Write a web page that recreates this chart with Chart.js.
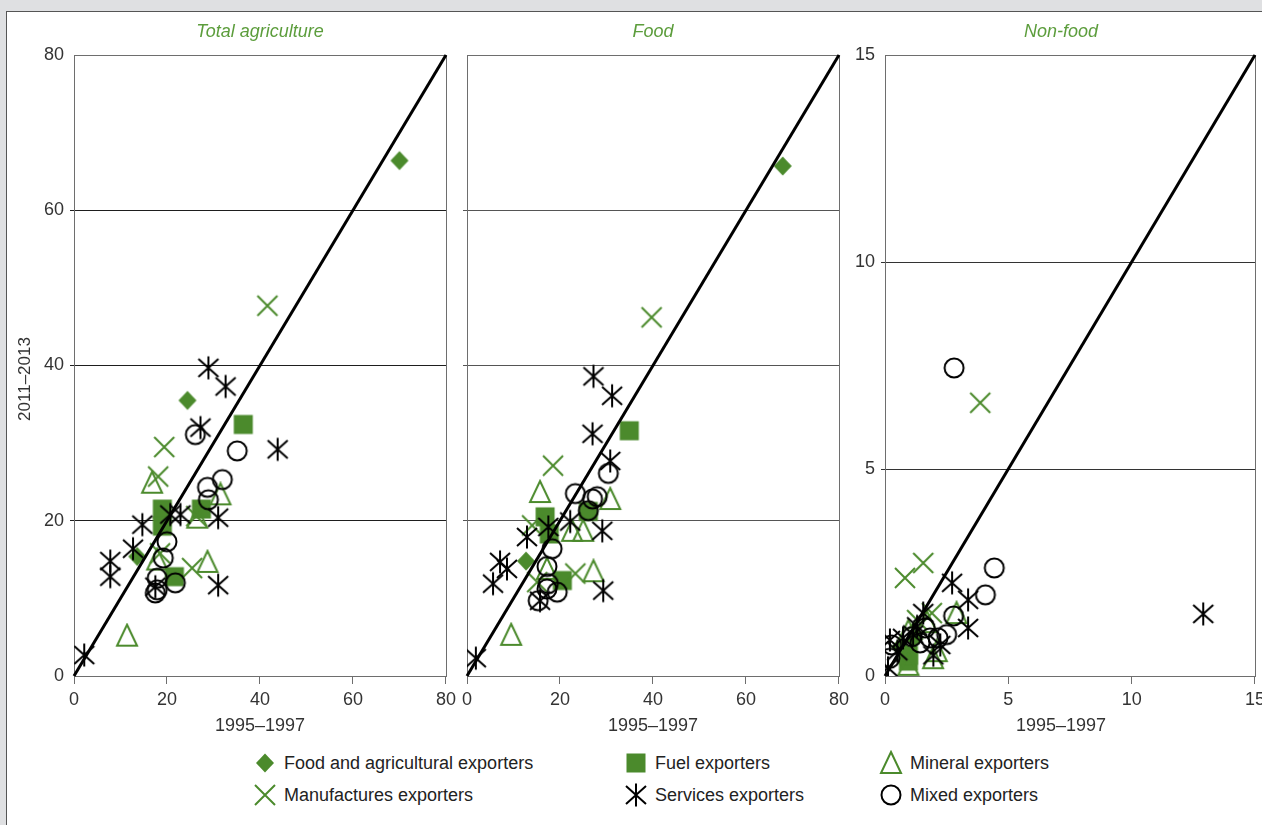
<!DOCTYPE html>
<html>
<head>
<meta charset="utf-8">
<script src="https://cdn.jsdelivr.net/npm/chart.js@4.4.1/dist/chart.umd.min.js"></script>
<style>
  html, body { margin: 0; padding: 0; width: 1262px; height: 825px; overflow: hidden; background: #dfe0e2; font-family: "Liberation Sans", Arial, sans-serif; }
  #sheet { position: absolute; left: 6px; top: 11px; width: 1300px; height: 860px; background: #fff; border-left: 1px solid #555; border-top: 1px solid #555; }
  canvas.panel { position: absolute; top: 0; }
  .key { position: absolute; height: 26px; display: flex; align-items: center; font-size: 18px; color: #222; white-space: nowrap; }
  .key canvas { margin-right: 6px; }
</style>
</head>
<body>
<div id="sheet"></div>
<canvas id="pTotal" class="panel" style="left:0px" width="461" height="740"></canvas>
<canvas id="pFood" class="panel" style="left:455px" width="399" height="740"></canvas>
<canvas id="pNonFood" class="panel" style="left:830px" width="440" height="740"></canvas>
<div id="legend"></div>
<script>
// ---- labels ----
const SERIES_NAMES = ['Food and agricultural exporters', 'Fuel exporters', 'Mineral exporters',
                      'Manufactures exporters', 'Services exporters', 'Mixed exporters'];
const PANEL_TITLES = ['Total agriculture', 'Food', 'Non-food'];
const X_TITLE = '1995–1997';
const Y_TITLE = '2011–2013';
const AXIS_MAX = [80, 80, 15];
const AXIS_STEP = [20, 20, 5];

// ---- Total agriculture: [1995–1997, 2011–2013] ----
const totalFoodAg   = [[70, 66.4], [24.4, 35.5], [13.6, 15.4]];
const totalFuel     = [[36.4, 32.4], [19, 21.5], [19, 19.3], [27.4, 21.5], [21.6, 12.8]];
const totalMineral  = [[11.4, 5.2], [16.8, 24.9], [31.5, 23.4], [26.5, 20.4], [28.7, 14.7], [17.9, 15]];
const totalManuf    = [[41.6, 47.7], [19.4, 29.5], [18.1, 25.7], [25.4, 13.9], [18.5, 15.8], [26.3, 20.6]];
const totalServices = [[2.2, 2.7], [7.8, 14.8], [7.8, 12.8], [12.7, 16.4], [14.7, 19.5], [20.7, 20.8],
                       [22.9, 20.8], [31, 20.4], [31, 11.7], [17.5, 11.5], [27.2, 32], [43.8, 29.2],
                       [28.9, 39.7], [32.6, 37.3]];
const totalMixed    = [[26.1, 31.1], [35.1, 29], [31.9, 25.3], [28.7, 24.3], [28.9, 22.7], [20, 17.3],
                       [19.2, 15.2], [17.9, 12.6], [17.9, 11.1], [21.8, 12], [17.5, 10.7]];

// ---- Food ----
const foodFoodAg   = [[67.9, 65.7], [12.7, 14.8]];
const foodFuel     = [[34.9, 31.6], [16.8, 20.5], [17.7, 18.3], [20.5, 12.3], [26.1, 21.2]];
const foodMineral  = [[9.5, 5.3], [15.7, 23.7], [30.8, 22.8], [22.6, 18.7], [25, 18.7], [27.2, 13.5], [17.2, 13.8]];
const foodManuf    = [[39.7, 46.2], [18.5, 27.1], [23.3, 13.2], [15.1, 12.1], [14, 19.4]];
const foodServices = [[1.9, 2.3], [5.6, 11.9], [7.1, 14.7], [8.6, 13.8], [12.9, 17.9], [17.5, 19.2],
                      [22.2, 19.9], [29.1, 18.7], [29.3, 11], [15.7, 9.7], [30.8, 27.7], [27, 31.2],
                      [27.2, 38.6], [31.2, 36.1]];
const foodMixed    = [[30.4, 26.1], [23.3, 23.5], [28, 23.1], [27, 22.8], [26.1, 21.3], [18.3, 16.4],
                      [17.2, 14.1], [17.5, 11.9], [19.4, 10.8], [15.3, 9.7], [17.2, 11.2]];

// ---- Non-food ----
const nonFoodFoodAg   = [[0.6, 0.7], [1.2, 0.9]];
const nonFoodFuel     = [[0.95, 0.36], [0.95, 0.5]];
const nonFoodMineral  = [[2.9, 1.52], [1.95, 0.43], [0.95, 0.27], [0.95, 1.09], [1.7, 1.3], [2.1, 0.6]];
const nonFoodManuf    = [[3.86, 6.6], [0.81, 2.37], [1.55, 2.73], [1.9, 1.52], [1.3, 1.35]];
const nonFoodServices = [[12.9, 1.5], [2.72, 2.25], [3.37, 1.84], [3.37, 1.16], [1.55, 1.52], [1.96, 0.5],
                         [0.12, 0.2], [0.2, 0.87], [0.73, 0.92], [1.3, 1.2], [2.24, 0.75], [1.14, 1.0], [0.5, 0.6]];
const nonFoodMixed    = [[2.8, 7.44], [4.43, 2.61], [4.07, 1.96], [2.78, 1.45], [2.5, 1.0], [0.2, 0.43],
                         [0.27, 0.75], [1.42, 0.8], [1.83, 0.92], [2.15, 0.92], [1.63, 1.16], [1.1, 0.95]];

// ---- marker glyphs ----
const GREEN = '#4b8a2c';
const TITLE_GREEN = '#5c9d3c';

function glyph(kind) {
  const c = document.createElement('canvas');
  c.width = 26; c.height = 26;
  const g = c.getContext('2d');
  const m = 13;
  g.lineWidth = 2;
  g.lineCap = 'butt';
  g.beginPath();
  if (kind === 'diamond') {
    g.fillStyle = GREEN;
    g.moveTo(m, m - 9.5); g.lineTo(m + 9, m); g.lineTo(m, m + 9.5); g.lineTo(m - 9, m); g.closePath();
    g.fill();
  } else if (kind === 'square') {
    g.fillStyle = GREEN;
    g.fillRect(m - 9.5, m - 9.5, 19, 19);
  } else if (kind === 'triangle') {
    g.strokeStyle = GREEN;
    g.moveTo(m, m - 11); g.lineTo(m + 10, m + 10); g.lineTo(m - 10, m + 10); g.closePath();
    g.stroke();
  } else if (kind === 'cross') {
    g.strokeStyle = GREEN;
    g.moveTo(m - 10, m - 10); g.lineTo(m + 10, m + 10);
    g.moveTo(m + 10, m - 10); g.lineTo(m - 10, m + 10);
    g.stroke();
  } else if (kind === 'asterisk') {
    g.strokeStyle = '#000';
    g.moveTo(m, m - 11.5); g.lineTo(m, m + 11.5);
    g.moveTo(m - 10, m - 9); g.lineTo(m + 10, m + 9);
    g.moveTo(m + 10, m - 9); g.lineTo(m - 10, m + 9);
    g.stroke();
  } else if (kind === 'circle') {
    g.strokeStyle = '#000';
    g.arc(m, m, 9.5, 0, Math.PI * 2);
    g.stroke();
  }
  return c;
}
const GLYPHS = ['diamond', 'square', 'triangle', 'cross', 'asterisk', 'circle'].map(glyph);
// later-drawn datasets sit on top: black marks over green ones
const DRAW_ORDER = [6, 5, 4, 3, 2, 1];

// ---- plugins ----
const frame = {
  id: 'frame',
  beforeDatasetsDraw(chart) {
    const { ctx, chartArea: a } = chart;
    ctx.save();
    ctx.strokeStyle = '#6e6e6e';
    ctx.lineWidth = 1;
    ctx.strokeRect(Math.round(a.left) + 0.5, Math.round(a.top) + 0.5, Math.round(a.width), Math.round(a.height));
    ctx.restore();
  }
};

const panelText = {
  id: 'panelText',
  afterDraw(chart, args, o) {
    const { ctx, chartArea: a } = chart;
    const cx = (a.left + a.right) / 2 + (o.shift || 0);
    ctx.save();
    ctx.textAlign = 'center';
    ctx.textBaseline = 'middle';
    ctx.fillStyle = TITLE_GREEN;
    ctx.font = 'italic 18px "Liberation Sans", Arial, sans-serif';
    ctx.fillText(o.title, cx, 32);
    ctx.fillStyle = '#333';
    ctx.font = '18px "Liberation Sans", Arial, sans-serif';
    ctx.fillText(X_TITLE, cx, 726);
    if (o.yTitle) {
      ctx.translate(25, 379);
      ctx.rotate(-Math.PI / 2);
      ctx.font = '17px "Liberation Sans", Arial, sans-serif';
      ctx.fillText(o.yTitle, 0, 0);
    }
    ctx.restore();
  }
};

function toPoints(arr) { return arr.map(([x, y]) => ({ x, y })); }

function makePanel(id, idx, seriesList, yWidth, showYLabels, gridColor, shift) {
  const max = AXIS_MAX[idx], step = AXIS_STEP[idx];
  const datasets = [{
    label: 'y = x',
    data: [{ x: 0, y: 0 }, { x: max, y: max }],
    showLine: true, borderColor: '#000', borderWidth: 3, pointRadius: 0, order: 0, clip: false
  }];
  seriesList.forEach((s, i) => datasets.push({
    label: SERIES_NAMES[i],
    data: toPoints(s),
    pointStyle: GLYPHS[i],
    pointRadius: 10,
    order: DRAW_ORDER[i]
  }));
  return new Chart(document.getElementById(id), {
    type: 'scatter',
    data: { datasets },
    options: {
      responsive: false,
      animation: false,
      events: [],
      layout: { padding: { top: 55, right: 12, left: 0, bottom: 0 } },
      plugins: {
        legend: { display: false },
        tooltip: { enabled: false },
        panelText: { title: PANEL_TITLES[idx], yTitle: showYLabels && idx === 0 ? Y_TITLE : null, shift }
      },
      scales: {
        x: {
          type: 'linear', min: 0, max,
          ticks: { stepSize: step, color: '#333', font: { size: 18, family: '"Liberation Sans", Arial, sans-serif' }, padding: 5, maxRotation: 0 },
          grid: { drawOnChartArea: false, tickLength: 8, color: '#6e6e6e' },
          border: { display: false },
          afterFit(s) { s.height = 64; }
        },
        y: {
          type: 'linear', min: 0, max,
          ticks: { display: showYLabels, stepSize: step, color: '#333', font: { size: 18, family: '"Liberation Sans", Arial, sans-serif' }, padding: 6 },
          grid: {
            color: c => (c.tick && (c.tick.value === 0 || c.tick.value === max)) ? 'rgba(0,0,0,0)' : gridColor,
            tickLength: 4, lineWidth: 1
          },
          border: { display: false },
          afterFit(s) { s.width = yWidth; }
        }
      }
    },
    plugins: [frame, panelText]
  });
}

makePanel('pTotal', 0, [totalFoodAg, totalFuel, totalMineral, totalManuf, totalServices, totalMixed], 74, true, '#1e1e1e', 0);
makePanel('pFood', 1, [foodFoodAg, foodFuel, foodMineral, foodManuf, foodServices, foodMixed], 12, false, '#555', 0);
makePanel('pNonFood', 2, [nonFoodFoodAg, nonFoodFuel, nonFoodMineral, nonFoodManuf, nonFoodServices, nonFoodMixed], 55, true, '#333', -9);

// ---- legend ----
const legendSlots = [[252, 750], [623, 750], [878, 750], [252, 782], [623, 782], [878, 782]];
const legend = document.getElementById('legend');
SERIES_NAMES.forEach((name, i) => {
  const item = document.createElement('div');
  item.className = 'key';
  item.style.left = legendSlots[i][0] + 'px';
  item.style.top = legendSlots[i][1] + 'px';
  const c = document.createElement('canvas');
  c.width = 26; c.height = 26;
  c.getContext('2d').drawImage(GLYPHS[i], 0, 0);
  const t = document.createElement('span');
  t.textContent = name;
  item.appendChild(c);
  item.appendChild(t);
  legend.appendChild(item);
});
</script>
</body>
</html>
